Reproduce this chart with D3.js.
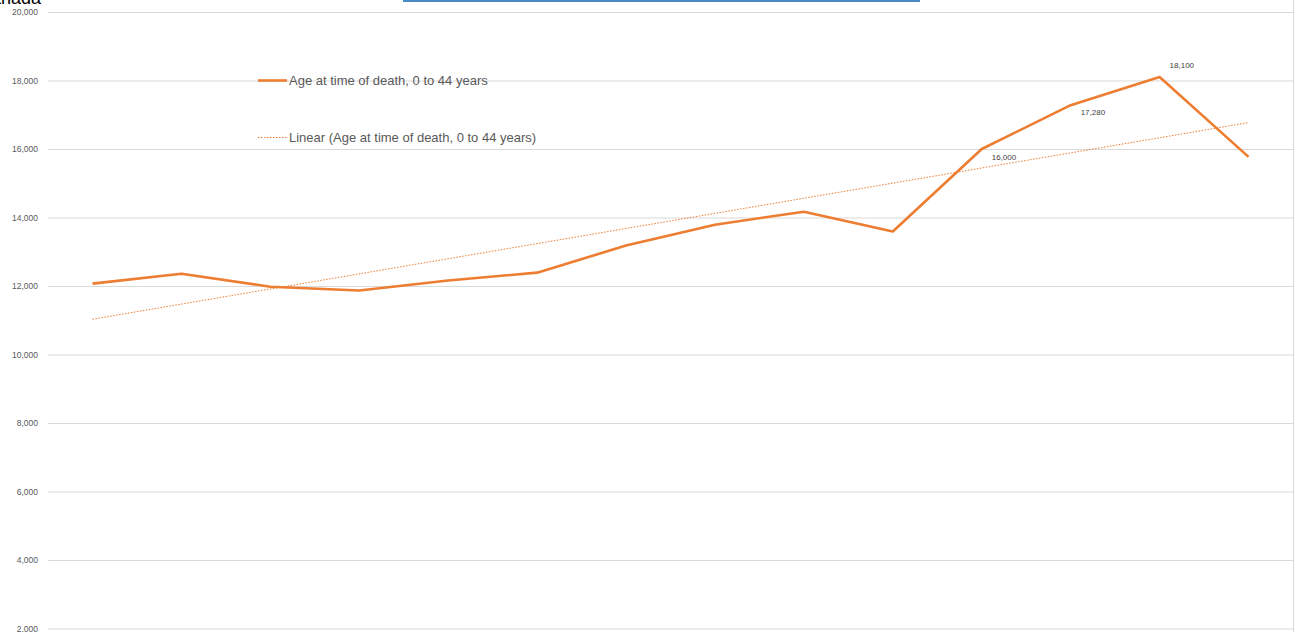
<!DOCTYPE html>
<html>
<head>
<meta charset="utf-8">
<script src="https://cdn.jsdelivr.net/npm/d3@7"></script>
<style>
  html, body { margin: 0; padding: 0; background: #fff; overflow: hidden; }
  svg { display: block; font-family: "Liberation Sans", Arial, sans-serif; }
</style>
</head>
<body>
<div id="chart"></div>
<script>
// categories (x axis is cut off in the picture)
var years = ["2005", "2006", "2007", "2008", "2009", "2010", "2011",
             "2012", "2013", "2014", "2015", "2016", "2017", "2018"];
// Age at time of death, 0 to 44 years
var deaths = [12070, 12360, 11980, 11870, 12160, 12390, 13180,
              13790, 14170, 13590, 16000, 17280, 18100, 15770];
// linear trendline, first and last value
var trendEnds = [11030, 16770];
// points that carry a data label
var labelled = ["2015", "2016", "2017"];
var yTicks = [2000, 4000, 6000, 8000, 10000, 12000, 14000, 16000, 18000, 20000];
var seriesName = "Age at time of death, 0 to 44 years";
var trendName = "Linear (Age at time of death, 0 to 44 years)";

var W = 1301, H = 632;
var plot = {left: 48, right: 1293, top: 12, bottom: 697};
var orange = "#ed7d31";

var svg = d3.select("#chart").append("svg")
    .attr("width", W)
    .attr("height", H);

var x = d3.scalePoint().domain(years).range([plot.left, plot.right]).padding(0.5);
var y = d3.scaleLinear().domain([0, 20000]).range([plot.bottom, plot.top]);

// cut-off title and link underline at the top
svg.append("text")
    .attr("x", 41).attr("y", 4)
    .attr("text-anchor", "end")
    .style("font-size", "18px")
    .style("fill", "#000")
    .text("Canada");
svg.append("rect")
    .attr("x", 403).attr("y", 0)
    .attr("width", 517).attr("height", 2)
    .attr("fill", "#4a8ac4");

// Y axis with gridlines
var yAxis = d3.axisLeft(y)
    .tickValues(yTicks)
    .tickSize(-(plot.right - plot.left))
    .tickPadding(10)
    .tickFormat(d3.format(",.0f"));

var gy = svg.append("g")
    .attr("class", "y axis")
    .attr("transform", "translate(" + plot.left + ",0)")
    .call(yAxis);
gy.select(".domain").remove();
gy.selectAll("line").attr("stroke", "#d9d9d9").attr("stroke-width", 1);
gy.selectAll("text").style("font-size", "8.5px").style("fill", "#595959");

// right border of the chart area
svg.append("line")
    .attr("x1", plot.right + 0.5).attr("x2", plot.right + 0.5)
    .attr("y1", 0).attr("y2", H)
    .attr("stroke", "#d9d9d9");

// trendline
svg.append("line")
    .attr("x1", x(years[0])).attr("y1", y(trendEnds[0]))
    .attr("x2", x(years[years.length - 1])).attr("y2", y(trendEnds[1]))
    .attr("stroke", orange)
    .attr("stroke-width", 1)
    .attr("stroke-dasharray", "1.5,1.5");

// main series
var line = d3.line()
    .x(function(d, i) { return x(years[i]); })
    .y(function(d) { return y(d); });

svg.append("path")
    .attr("d", line(deaths))
    .attr("fill", "none")
    .attr("stroke", orange)
    .attr("stroke-width", 2.6)
    .attr("stroke-linejoin", "round");

// data labels
var labelPos = {"2015": [10, 11], "2016": [10, 10], "2017": [10, -9]};
svg.selectAll(".dlabel")
    .data(labelled)
    .enter().append("text")
    .attr("class", "dlabel")
    .attr("x", function(d) { return x(d) + labelPos[d][0]; })
    .attr("y", function(d) { return y(deaths[years.indexOf(d)]) + labelPos[d][1]; })
    .style("font-size", "8px")
    .style("fill", "#404040")
    .text(function(d) { return d3.format(",")(deaths[years.indexOf(d)]); });

// legend
var legend = svg.append("g").attr("transform", "translate(258,0)");
legend.append("line")
    .attr("x1", 0).attr("x2", 29).attr("y1", 80.5).attr("y2", 80.5)
    .attr("stroke", orange).attr("stroke-width", 2.6);
legend.append("text")
    .attr("x", 31).attr("y", 85)
    .style("font-size", "13px").style("fill", "#595959")
    .text(seriesName);
legend.append("line")
    .attr("x1", 0).attr("x2", 29).attr("y1", 137.5).attr("y2", 137.5)
    .attr("stroke", orange).attr("stroke-width", 1)
    .attr("stroke-dasharray", "1.5,1.5");
legend.append("text")
    .attr("x", 31).attr("y", 142)
    .style("font-size", "13px").style("fill", "#595959")
    .text(trendName);
</script>
</body>
</html>
